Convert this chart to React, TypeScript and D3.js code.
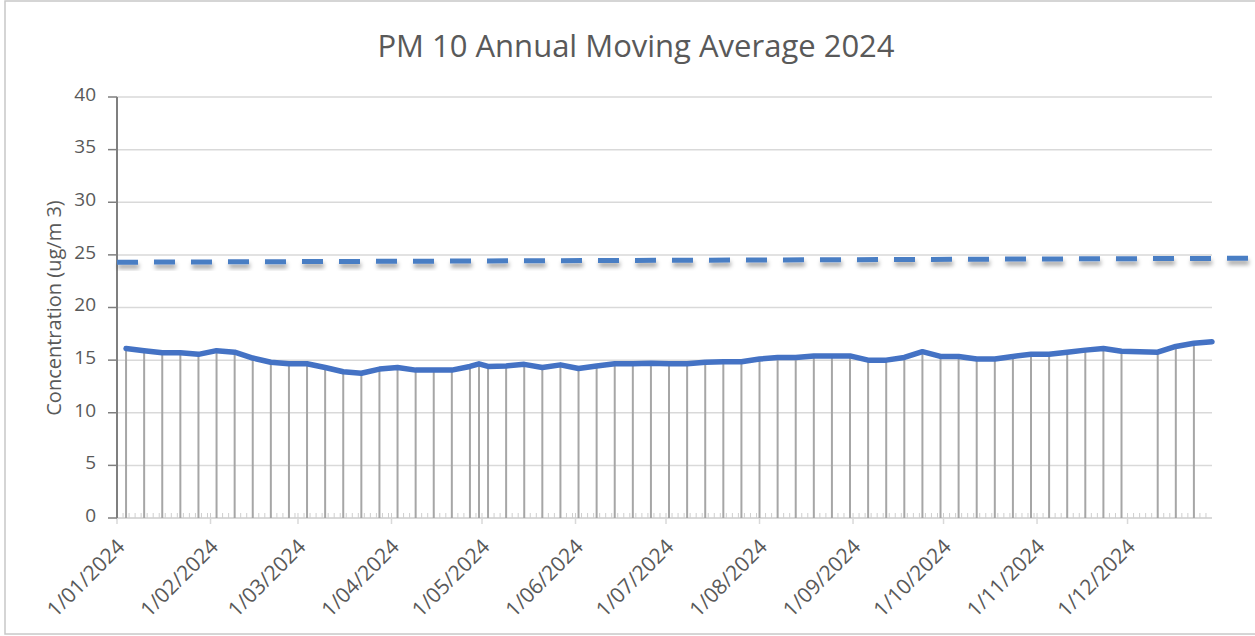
import { useEffect, useRef } from "react";
import * as d3 from "d3";

// sample dates (1-in-6 day schedule, with one make-up sample and one missed)
const sampleDates = [
  "2024-01-04", "2024-01-10", "2024-01-16", "2024-01-22", "2024-01-28",
  "2024-02-03", "2024-02-09", "2024-02-15", "2024-02-21", "2024-02-27",
  "2024-03-04", "2024-03-10", "2024-03-16", "2024-03-22", "2024-03-28",
  "2024-04-03", "2024-04-09", "2024-04-15", "2024-04-21", "2024-04-27",
  "2024-04-30", "2024-05-03", "2024-05-09", "2024-05-15", "2024-05-21",
  "2024-05-27", "2024-06-02", "2024-06-08", "2024-06-14", "2024-06-20",
  "2024-06-26", "2024-07-02", "2024-07-08", "2024-07-14", "2024-07-20",
  "2024-07-26", "2024-08-01", "2024-08-07", "2024-08-13", "2024-08-19",
  "2024-08-25", "2024-08-31", "2024-09-06", "2024-09-12", "2024-09-18",
  "2024-09-24", "2024-09-30", "2024-10-06", "2024-10-12", "2024-10-18",
  "2024-10-24", "2024-10-30", "2024-11-05", "2024-11-11", "2024-11-17",
  "2024-11-23", "2024-11-29", "2024-12-11", "2024-12-17", "2024-12-23",
  "2024-12-29",
];

const movingAverage = [
  16.1, 15.9, 15.7, 15.7, 15.55,
  15.9, 15.75, 15.2, 14.8, 14.65,
  14.65, 14.3, 13.9, 13.75, 14.15,
  14.3, 14.05, 14.05, 14.05, 14.4,
  14.65, 14.4, 14.45, 14.6, 14.3,
  14.55, 14.2, 14.45, 14.65, 14.65,
  14.7, 14.65, 14.65, 14.8, 14.85,
  14.85, 15.1, 15.25, 15.25, 15.4,
  15.4, 15.4, 15.0, 15.0, 15.25,
  15.8, 15.35, 15.35, 15.1, 15.1,
  15.35, 15.55, 15.55, 15.75, 15.95,
  16.1, 15.85, 15.75, 16.3, 16.6,
  16.75,
];

// dashed reference line
const standardDates = ["2024-01-01", "2025-01-12"];
const standardValues = [24.3, 24.68];

const yTicks = [0, 5, 10, 15, 20, 25, 30, 35, 40];
const monthTicks = [
  "2024-01-01", "2024-02-01", "2024-03-01", "2024-04-01",
  "2024-05-01", "2024-06-01", "2024-07-01", "2024-08-01",
  "2024-09-01", "2024-10-01", "2024-11-01", "2024-12-01",
];
const axisStart = "2024-01-01";
const axisEnd = "2024-12-29";

type T_Point = { date: Date; value: number };

const W = 1255;
const H = 636;
const FONT = "'Open Sans', 'Liberation Sans', sans-serif";
const TEXT = "#595959";

export default function App() {
  const svgRef = useRef<SVGSVGElement>(null);

  useEffect(() => {
    if (!svgRef.current) return;
    const parse = d3.timeParse("%Y-%m-%d");
    const fmt = d3.timeFormat("%-d/%m/%Y");

    const data: T_Point[] = sampleDates.map((d, i) => ({
      date: parse(d) as Date,
      value: movingAverage[i],
    }));
    const standard: T_Point[] = standardDates.map((d, i) => ({
      date: parse(d) as Date,
      value: standardValues[i],
    }));

    const margin = { top: 97, right: W - 1212, bottom: H - 518, left: 117 };

    const svg = d3.select(svgRef.current);
    svg.selectAll("*").remove();
    svg.attr("width", W).attr("height", H).attr("viewBox", `0 0 ${W} ${H}`);

    const xMin = parse(axisStart) as Date;
    const xMax = parse(axisEnd) as Date;
    const xScale = d3
      .scaleTime()
      .domain([xMin, xMax])
      .range([margin.left, W - margin.right]);
    const yScale = d3
      .scaleLinear()
      .domain([0, 40])
      .range([H - margin.bottom, margin.top]);

    // shadow for dashed line
    const defs = svg.append("defs");
    const f = defs
      .append("filter")
      .attr("id", "shadow")
      .attr("x", "-5%")
      .attr("y", "-200%")
      .attr("width", "110%")
      .attr("height", "500%");
    f.append("feDropShadow")
      .attr("dx", 1)
      .attr("dy", 4)
      .attr("stdDeviation", 2)
      .attr("flood-color", "#000")
      .attr("flood-opacity", 0.35);

    // background + border
    svg
      .append("rect")
      .attr("x", 5)
      .attr("y", 1)
      .attr("width", W + 10)
      .attr("height", 633)
      .attr("fill", "#fff")
      .attr("stroke", "#c8c8c8")
      .attr("stroke-width", 1.5);

    // title
    svg
      .append("text")
      .attr("x", 636)
      .attr("y", 57)
      .attr("text-anchor", "middle")
      .attr("font-family", FONT)
      .attr("font-size", 31)
      .attr("fill", TEXT)
      .text("PM 10 Annual Moving Average 2024");

    // y gridlines
    svg
      .append("g")
      .selectAll("line")
      .data(yTicks.filter((t) => t > 0))
      .enter()
      .append("line")
      .attr("x1", margin.left)
      .attr("x2", W - margin.right)
      .attr("y1", (d) => yScale(d))
      .attr("y2", (d) => yScale(d))
      .attr("stroke", "#d9d9d9")
      .attr("stroke-width", 1.5);

    // x axis line
    const x0 = yScale(0);
    svg
      .append("line")
      .attr("x1", margin.left)
      .attr("x2", W - margin.right)
      .attr("y1", x0)
      .attr("y2", x0)
      .attr("stroke", "#d9d9d9")
      .attr("stroke-width", 2);

    // minor ticks (inside)
    svg
      .append("g")
      .selectAll("line")
      .data(d3.timeDay.every(2)!.range(xMin, xMax))
      .enter()
      .append("line")
      .attr("x1", (d) => xScale(d))
      .attr("x2", (d) => xScale(d))
      .attr("y1", x0)
      .attr("y2", x0 - 5)
      .attr("stroke", "#cfcfcf")
      .attr("stroke-width", 1);

    // major ticks + labels
    const months = monthTicks.map((d) => parse(d) as Date);
    const xt = svg.append("g");
    xt.selectAll("line")
      .data(months)
      .enter()
      .append("line")
      .attr("x1", (d) => xScale(d))
      .attr("x2", (d) => xScale(d))
      .attr("y1", x0)
      .attr("y2", x0 + 6)
      .attr("stroke", "#d9d9d9")
      .attr("stroke-width", 1.5);
    xt.selectAll("text")
      .data(months)
      .enter()
      .append("text")
      .attr(
        "transform",
        (d) => `translate(${xScale(d) + 9},${x0 + 30}) rotate(-45)`,
      )
      .attr("text-anchor", "end")
      .attr("font-family", FONT)
      .attr("font-size", 21)
      .attr("fill", TEXT)
      .text((d) => fmt(d));

    // drop lines
    svg
      .append("g")
      .selectAll("line")
      .data(data.filter((d) => d.date < xMax))
      .enter()
      .append("line")
      .attr("x1", (d) => xScale(d.date))
      .attr("x2", (d) => xScale(d.date))
      .attr("y1", (d) => yScale(d.value))
      .attr("y2", x0)
      .attr("stroke", "#a6a6a6")
      .attr("stroke-width", 2);

    // y axis
    const ya = svg.append("g");
    ya.append("line")
      .attr("x1", margin.left)
      .attr("x2", margin.left)
      .attr("y1", margin.top)
      .attr("y2", x0)
      .attr("stroke", "#7f7f7f")
      .attr("stroke-width", 2);
    ya.selectAll(".tick")
      .data(yTicks)
      .enter()
      .append("line")
      .attr("class", "tick")
      .attr("x1", margin.left - 9)
      .attr("x2", margin.left)
      .attr("y1", (d) => yScale(d))
      .attr("y2", (d) => yScale(d))
      .attr("stroke", "#7f7f7f")
      .attr("stroke-width", 1.5);
    ya.selectAll("text")
      .data(yTicks)
      .enter()
      .append("text")
      .attr("x", 96)
      .attr("y", (d) => yScale(d))
      .attr("dy", "0.2em")
      .attr("text-anchor", "end")
      .attr("font-family", FONT)
      .attr("font-size", 19)
      .attr("fill", TEXT)
      .text((d) => d);

    // y axis title
    svg
      .append("text")
      .attr("transform", `translate(61,308) rotate(-90)`)
      .attr("text-anchor", "middle")
      .attr("font-family", FONT)
      .attr("font-size", 20)
      .attr("fill", TEXT)
      .text("Concentration (ug/m 3)");

    // dashed reference line
    const line = d3
      .line<T_Point>()
      .x((d) => xScale(d.date))
      .y((d) => yScale(d.value));

    svg
      .append("path")
      .datum(standard)
      .attr("fill", "none")
      .attr("stroke", "#4a7ec4")
      .attr("stroke-width", 5)
      .attr("stroke-dasharray", "21 16")
      .attr("filter", "url(#shadow)")
      .attr("d", line);

    // moving average line
    svg
      .append("path")
      .datum(data)
      .attr("fill", "none")
      .attr("stroke", "#4472c4")
      .attr("stroke-width", 5.5)
      .attr("stroke-linejoin", "round")
      .attr("stroke-linecap", "round")
      .attr("d", line);
  }, []);

  return (
    <div style={{ position: "absolute", left: 0, top: 0, width: W, height: H }}>
      <svg ref={svgRef} style={{ display: "block" }} />
    </div>
  );
}
